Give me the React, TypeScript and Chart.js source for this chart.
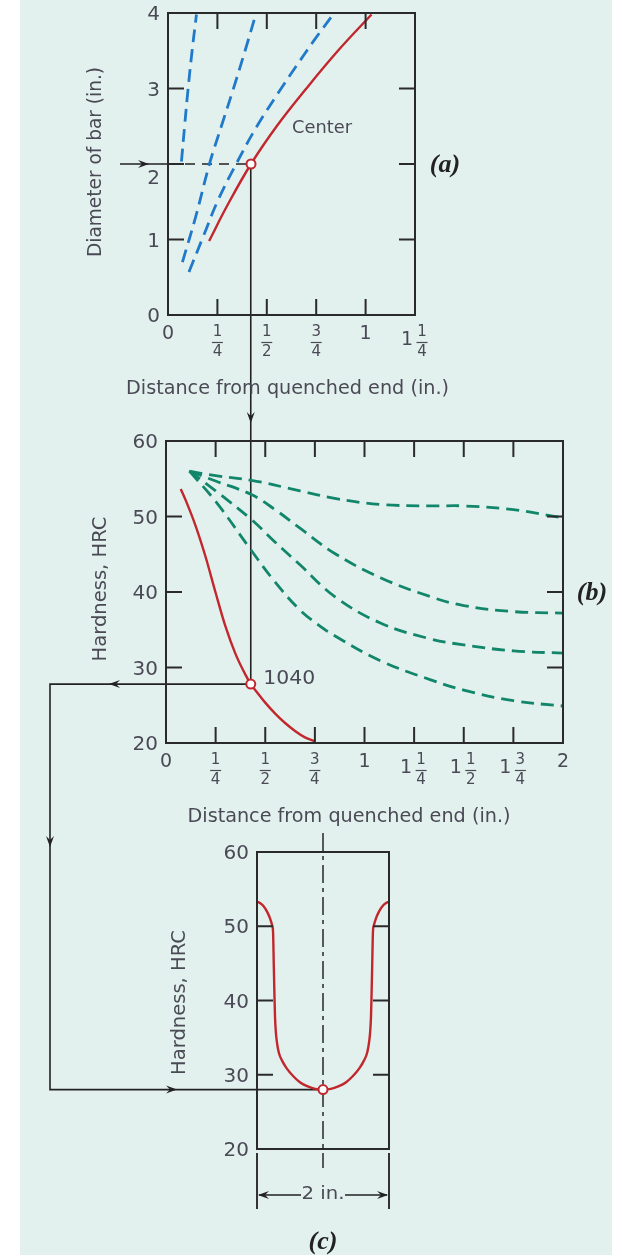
import React, { useEffect, useRef } from "react";
import { Chart, registerables } from "chart.js";
Chart.register(...registerables);

const W = 623;
const H = 1255;

// ---------- Chart (a): diameter of bar vs distance ----------
const aXTickValues = [0.25, 0.5, 0.75, 1];
const aYTickValues = [1, 2, 3];
const aXLabelValues = [0, 0.25, 0.5, 0.75, 1, 1.25];
const aXLabelTexts = ["0", "1/4", "1/2", "3/4", "1", "1 1/4"];
const aYLabelValues = [0, 1, 2, 3, 4];
const aYLabelTexts = ["0", "1", "2", "3", "4"];

const aCenterX = [0.208, 0.3, 0.42, 0.55, 0.7, 0.86, 1.03];
const aCenterY = [0.98, 1.45, 2.0, 2.5, 3.0, 3.5, 3.98];
const aBlue1X = [0.068, 0.084, 0.101, 0.122, 0.144];
const aBlue1Y = [2.03, 2.5, 2.98, 3.5, 3.98];
const aBlue2X = [0.073, 0.14, 0.211, 0.27, 0.329, 0.39, 0.444];
const aBlue2Y = [0.7, 1.3, 2.01, 2.5, 2.98, 3.5, 3.98];
const aBlue3X = [0.106, 0.18, 0.253, 0.345, 0.45, 0.56, 0.65, 0.74, 0.835];
const aBlue3Y = [0.57, 1.05, 1.52, 2.0, 2.5, 2.95, 3.3, 3.64, 3.98];
const aCircle = { x: 0.42, y: 2.0 };

// ---------- Chart (b): hardness vs distance ----------
const bXTickValues = [0.25, 0.5, 0.75, 1, 1.25, 1.5, 1.75];
const bYTickValues = [30, 40, 50];
const bXLabelValues = [0, 0.25, 0.5, 0.75, 1, 1.25, 1.5, 1.75, 2];
const bXLabelTexts = ["0", "1/4", "1/2", "3/4", "1", "1 1/4", "1 1/2", "1 3/4", "2"];
const bYLabelValues = [20, 30, 40, 50, 60];
const bYLabelTexts = ["20", "30", "40", "50", "60"];

const b1040X = [0.074, 0.1, 0.15, 0.2, 0.25, 0.3, 0.35, 0.4, 0.427, 0.45, 0.5, 0.55, 0.6, 0.65, 0.7, 0.751];
const b1040Y = [53.65, 52.1, 48.7, 44.6, 39.9, 35.4, 31.8, 29.05, 27.8, 27.0, 25.35, 23.9, 22.65, 21.6, 20.75, 20.2];
const bGreen1X = [0.118, 0.25, 0.43, 0.675, 0.85, 1.08, 1.33, 1.5, 1.75, 2.0];
const bGreen1Y = [56.0, 55.4, 54.8, 53.4, 52.4, 51.6, 51.4, 51.4, 50.9, 49.8];
const bGreen2X = [0.118, 0.25, 0.43, 0.55, 0.675, 0.85, 1.08, 1.33, 1.5, 1.75, 2.0];
const bGreen2Y = [56.0, 54.7, 52.9, 50.9, 48.45, 45.1, 41.9, 39.4, 38.2, 37.4, 37.2];
const bGreen3X = [0.118, 0.25, 0.43, 0.55, 0.675, 0.85, 1.08, 1.33, 1.5, 1.75, 2.0];
const bGreen3Y = [56.0, 53.4, 49.6, 46.6, 43.6, 39.4, 35.9, 33.8, 33.0, 32.2, 31.9];
const bGreen4X = [0.118, 0.25, 0.43, 0.55, 0.675, 0.76, 0.85, 1.08, 1.33, 1.5, 1.75, 2.0];
const bGreen4Y = [56.0, 52.0, 45.5, 41.3, 37.6, 35.8, 34.2, 30.9, 28.4, 27.0, 25.6, 24.9];
const bCircle = { x: 0.427, y: 27.8 };

// ---------- Chart (c): hardness profile across a 2 in. bar ----------
const cYTickValues = [30, 40, 50];
const cYLabelValues = [20, 30, 40, 50, 60];
const cYLabelTexts = ["20", "30", "40", "50", "60"];
const cProfileX = [
  -1, -0.95, -0.9, -0.85, -0.8, -0.77, -0.757, -0.745, -0.735, -0.727, -0.715, -0.7, -0.67, -0.62,
  -0.553, -0.45, -0.35, -0.25, -0.12, 0, 0.12, 0.25, 0.35, 0.45, 0.553, 0.62, 0.67, 0.7, 0.715,
  0.727, 0.735, 0.745, 0.757, 0.77, 0.8, 0.85, 0.9, 0.95, 1,
];
const cProfileY = [
  53.3, 53.1, 52.7, 52.0, 51.0, 50.1, 49.3, 44.5, 40.5, 37.8, 35.8, 34.5, 33.0, 31.9,
  30.9, 29.8, 29.0, 28.5, 28.1, 28.0, 28.1, 28.5, 29.0, 29.8, 30.9, 31.9, 33.0, 34.5, 35.8,
  37.8, 40.5, 44.5, 49.3, 50.1, 51.0, 52.0, 52.7, 53.1, 53.3,
];
const cCircle = { x: 0, y: 28.0 };

// ---------- styles ----------
const TEAL = "#e3f1ee";
const FRAME = "#2a2a2a";
const TEXT = "#4a4a56";
const RED = "#c1272d";
const BLUE = "#2179c9";
const GREEN = "#12866a";
const LINK = "#222222";
const TICK = 16;
const SANS = '"DejaVu Sans", "Liberation Sans", sans-serif';
const SERIF = '"Liberation Serif", "DejaVu Serif", serif';

type TOpts = {
  size: number;
  family?: string;
  align?: CanvasTextAlign;
  width?: number;
  rotate?: number;
  color?: string;
  style?: string;
};

function drawText(ctx: CanvasRenderingContext2D, text: string, x: number, y: number, o: TOpts) {
  ctx.save();
  ctx.font = `${o.style || ""} ${o.size}px ${o.family || SANS}`;
  ctx.fillStyle = o.color || TEXT;
  ctx.textBaseline = "middle";
  ctx.textAlign = o.align || "center";
  ctx.translate(x, y);
  if (o.rotate) ctx.rotate(o.rotate);
  if (o.width) {
    const m = ctx.measureText(text).width;
    ctx.scale(o.width / m, 1);
  }
  ctx.fillText(text, 0, 0);
  ctx.restore();
}

function arrowHead(ctx: CanvasRenderingContext2D, x: number, y: number, angle: number) {
  ctx.save();
  ctx.translate(x, y);
  ctx.rotate(angle);
  ctx.fillStyle = LINK;
  ctx.beginPath();
  ctx.moveTo(0, 0);
  ctx.lineTo(-11, -4);
  ctx.lineTo(-7, 0);
  ctx.lineTo(-11, 4);
  ctx.closePath();
  ctx.fill();
  ctx.restore();
}

function drawXLabel(ctx: CanvasRenderingContext2D, text: string, px: number, bottom: number) {
  const parts = text.split(" ");
  let whole = "";
  let frac = "";
  if (parts.length === 2) {
    whole = parts[0];
    frac = parts[1];
  } else if (text.includes("/")) frac = text;
  else whole = text;
  const drawFrac = (cx: number) => {
    const [n, d] = frac.split("/");
    drawText(ctx, n, cx, bottom + 17.5, { size: 15 });
    drawText(ctx, d, cx, bottom + 37, { size: 15 });
    ctx.save();
    ctx.strokeStyle = TEXT;
    ctx.lineWidth = 1.2;
    ctx.beginPath();
    ctx.moveTo(cx - 5.5, bottom + 27.5);
    ctx.lineTo(cx + 5.5, bottom + 27.5);
    ctx.stroke();
    ctx.restore();
  };
  if (whole && frac) {
    drawText(ctx, whole, px - 8, bottom + 25, { size: 19 });
    drawFrac(px + 7);
  } else if (frac) {
    drawFrac(px);
  } else {
    drawText(ctx, whole, px, bottom + 19.5, { size: 19 });
  }
}

type Spec = {
  xTicks: number[];
  yTicks: number[];
  xLabelValues: number[];
  xLabelTexts: string[];
  yLabelValues: number[];
  yLabelTexts: string[];
  yLabelShift?: Record<string, number>;
  under?: (chart: any) => void;
  over?: (chart: any) => void;
};

function framePlugin(id: string, spec: Spec) {
  return {
    id,
    beforeDatasetsDraw(chart: any) {
      if (spec.under) spec.under(chart);
    },
    afterDatasetsDraw(chart: any) {
      const ctx: CanvasRenderingContext2D = chart.ctx;
      const a = chart.chartArea;
      const xs = chart.scales.x;
      const ys = chart.scales.y;
      ctx.save();
      ctx.setLineDash([]);
      ctx.strokeStyle = FRAME;
      ctx.lineWidth = 2;
      ctx.strokeRect(a.left, a.top, a.right - a.left, a.bottom - a.top);
      ctx.beginPath();
      for (const v of spec.xTicks) {
        const px = xs.getPixelForValue(v);
        ctx.moveTo(px, a.bottom);
        ctx.lineTo(px, a.bottom - TICK);
        ctx.moveTo(px, a.top);
        ctx.lineTo(px, a.top + TICK);
      }
      for (const v of spec.yTicks) {
        const py = ys.getPixelForValue(v);
        ctx.moveTo(a.left, py);
        ctx.lineTo(a.left + TICK, py);
        ctx.moveTo(a.right, py);
        ctx.lineTo(a.right - TICK, py);
      }
      ctx.stroke();
      ctx.restore();
      spec.yLabelValues.forEach((v, i) => {
        const t = spec.yLabelTexts[i];
        const shift = (spec.yLabelShift && spec.yLabelShift[t]) || 0;
        drawText(ctx, t, a.left - 8, ys.getPixelForValue(v) + 1.8 + shift, { size: 20, align: "right" });
      });
      spec.xLabelValues.forEach((v, i) => {
        drawXLabel(ctx, spec.xLabelTexts[i], xs.getPixelForValue(v), a.bottom);
      });
      if (spec.over) spec.over(chart);
    },
  };
}

function lineDS(xs: number[], ys: number[], color: string, dash: number[], width: number, mono = false) {
  return {
    data: xs.map((x, i) => ({ x, y: ys[i] })),
    borderColor: color,
    borderWidth: width,
    borderDash: dash,
    pointRadius: 0,
    fill: false,
    tension: 0.4,
    cubicInterpolationMode: mono ? ("monotone" as const) : ("default" as const),
  };
}

function circleDS(p: { x: number; y: number }) {
  return {
    data: [p],
    showLine: false,
    pointRadius: 4.5,
    pointBackgroundColor: "#ffffff",
    pointBorderColor: RED,
    pointBorderWidth: 2,
    clip: false as const,
  };
}

function baseOptions(pad: { left: number; top: number; right: number; bottom: number }, x: [number, number], y: [number, number]) {
  return {
    animation: false as const,
    responsive: false,
    devicePixelRatio: 1,
    events: [] as any[],
    layout: { padding: pad },
    plugins: { legend: { display: false }, tooltip: { enabled: false } },
    scales: {
      x: { type: "linear" as const, min: x[0], max: x[1], display: false },
      y: { type: "linear" as const, min: y[0], max: y[1], display: false },
    },
  };
}

export default function App() {
  const refA = useRef<HTMLCanvasElement>(null);
  const refB = useRef<HTMLCanvasElement>(null);
  const refC = useRef<HTMLCanvasElement>(null);

  useEffect(() => {
    // (c)
    const specC: Spec = {
      xTicks: [],
      yTicks: cYTickValues,
      xLabelValues: [],
      xLabelTexts: [],
      yLabelValues: cYLabelValues,
      yLabelTexts: cYLabelTexts,
      under: (chart) => {
        const ctx: CanvasRenderingContext2D = chart.ctx;
        const a = chart.chartArea;
        const cx = chart.scales.x.getPixelForValue(0);
        ctx.save();
        ctx.strokeStyle = "#333";
        ctx.lineWidth = 1.6;
        ctx.setLineDash([18, 5, 4, 5]);
        ctx.beginPath();
        ctx.moveTo(cx, a.top - 19);
        ctx.lineTo(cx, a.bottom + 19);
        ctx.stroke();
        ctx.restore();
      },
      over: (chart) => {
        const ctx: CanvasRenderingContext2D = chart.ctx;
        const a = chart.chartArea;
        const xs = chart.scales.x;
        const l = xs.getPixelForValue(-1);
        const r = xs.getPixelForValue(1);
        const cx = xs.getPixelForValue(0);
        const dy = a.bottom + 46;
        ctx.save();
        ctx.strokeStyle = "#333";
        ctx.lineWidth = 2;
        ctx.beginPath();
        ctx.moveTo(l, a.bottom + 4);
        ctx.lineTo(l, a.bottom + 60);
        ctx.moveTo(r, a.bottom + 4);
        ctx.lineTo(r, a.bottom + 60);
        ctx.stroke();
        ctx.lineWidth = 1.5;
        ctx.strokeStyle = LINK;
        ctx.beginPath();
        ctx.moveTo(l + 2, dy);
        ctx.lineTo(cx - 22, dy);
        ctx.moveTo(cx + 22, dy);
        ctx.lineTo(r - 2, dy);
        ctx.stroke();
        ctx.restore();
        arrowHead(ctx, l + 1, dy, Math.PI);
        arrowHead(ctx, r - 1, dy, 0);
        drawText(ctx, "2 in.", cx, dy - 1, { size: 18, width: 43 });
        drawText(ctx, "Hardness, HRC", 180, (a.top + a.bottom) / 2 + 2, { size: 19, width: 145, rotate: -Math.PI / 2 });
        drawText(ctx, "(c)", cx, a.bottom + 93, { size: 26, family: SERIF, style: "italic bold", color: "#222" });
      },
    };
    const chartC = new Chart(refC.current as HTMLCanvasElement, {
      type: "line",
      data: { datasets: [circleDS(cCircle) as any, lineDS(cProfileX, cProfileY, RED, [], 2.4, true)] },
      options: baseOptions({ left: 257, top: 852, right: W - 389, bottom: H - 1149 }, [-1, 1], [20, 60]) as any,
      plugins: [framePlugin("frameC", specC)],
    });

    // (b)
    const specB: Spec = {
      xTicks: bXTickValues,
      yTicks: bYTickValues,
      xLabelValues: bXLabelValues,
      xLabelTexts: bXLabelTexts,
      yLabelValues: bYLabelValues,
      yLabelTexts: bYLabelTexts,
      over: (chart) => {
        const ctx: CanvasRenderingContext2D = chart.ctx;
        const a = chart.chartArea;
        drawText(ctx, "Hardness, HRC", 101.5, (a.top + a.bottom) / 2 - 3, { size: 19, width: 145, rotate: -Math.PI / 2 });
        drawText(ctx, "Distance from quenched end (in.)", 349, a.bottom + 73.5, { size: 20, width: 323 });
        const p = { x: chart.scales.x.getPixelForValue(bCircle.x), y: chart.scales.y.getPixelForValue(bCircle.y) };
        drawText(ctx, "1040", p.x + 38.5, p.y - 5.5, { size: 20, width: 52 });
        drawText(ctx, "(b)", a.right + 29, chart.scales.y.getPixelForValue(40) + 1, { size: 26, family: SERIF, style: "italic bold", color: "#222" });
      },
    };
    const chartB = new Chart(refB.current as HTMLCanvasElement, {
      type: "line",
      data: {
        datasets: [
          circleDS(bCircle) as any,
          lineDS(b1040X, b1040Y, RED, [], 2.4, true),
          lineDS(bGreen1X, bGreen1Y, GREEN, [13, 7], 2.8),
          lineDS(bGreen2X, bGreen2Y, GREEN, [13, 7], 2.8),
          lineDS(bGreen3X, bGreen3Y, GREEN, [13, 7], 2.8),
          lineDS(bGreen4X, bGreen4Y, GREEN, [13, 7], 2.8),
        ],
      },
      options: baseOptions({ left: 166, top: 441, right: W - 563, bottom: H - 743 }, [0, 2], [20, 60]) as any,
      plugins: [framePlugin("frameB", specB)],
    });

    // connectors (drawn on the bottom canvas, under everything)
    const connectors = {
      id: "connectors",
      beforeDatasetsDraw(chart: any) {
        const ctx: CanvasRenderingContext2D = chart.ctx;
        const a = chart.chartArea;
        const pA = { x: chart.scales.x.getPixelForValue(aCircle.x), y: chart.scales.y.getPixelForValue(aCircle.y) };
        const pB = { x: chartB.scales.x.getPixelForValue(bCircle.x), y: chartB.scales.y.getPixelForValue(bCircle.y) };
        const pC = { x: chartC.scales.x.getPixelForValue(cCircle.x), y: chartC.scales.y.getPixelForValue(cCircle.y) };
        const leftX = 50;
        ctx.save();
        ctx.strokeStyle = LINK;
        ctx.lineWidth = 1.6;
        ctx.beginPath();
        ctx.moveTo(120, pA.y);
        ctx.lineTo(a.left, pA.y);
        ctx.moveTo(pB.x, pA.y + 4);
        ctx.lineTo(pB.x, pB.y - 4);
        ctx.moveTo(pB.x - 4, pB.y);
        ctx.lineTo(leftX, pB.y);
        ctx.lineTo(leftX, pC.y);
        ctx.lineTo(pC.x - 4, pC.y);
        ctx.stroke();
        ctx.setLineDash([10, 7]);
        ctx.beginPath();
        ctx.moveTo(a.left, pA.y);
        ctx.lineTo(pA.x - 5, pA.y);
        ctx.stroke();
        ctx.restore();
        arrowHead(ctx, 149, pA.y, 0);
        arrowHead(ctx, pB.x, 423, Math.PI / 2);
        arrowHead(ctx, 109, pB.y, Math.PI);
        arrowHead(ctx, leftX, 847, Math.PI / 2);
        arrowHead(ctx, 177, pC.y, 0);
      },
    };

    // (a)
    const specA: Spec = {
      xTicks: aXTickValues,
      yTicks: aYTickValues,
      xLabelValues: aXLabelValues,
      xLabelTexts: aXLabelTexts,
      yLabelValues: aYLabelValues,
      yLabelTexts: aYLabelTexts,
      yLabelShift: { "2": 13 },
      over: (chart) => {
        const ctx: CanvasRenderingContext2D = chart.ctx;
        const a = chart.chartArea;
        drawText(ctx, "Diameter of bar (in.)", 96, (a.top + a.bottom) / 2 - 2, { size: 19, width: 190, rotate: -Math.PI / 2 });
        drawText(ctx, "Distance from quenched end (in.)", 287.5, a.bottom + 73.5, { size: 20, width: 323 });
        drawText(ctx, "Center", 322, 128.5, { size: 18, width: 60 });
        drawText(ctx, "(a)", a.right + 30, chart.scales.y.getPixelForValue(2) + 1, { size: 26, family: SERIF, style: "italic bold", color: "#222" });
      },
    };
    const chartA = new Chart(refA.current as HTMLCanvasElement, {
      type: "line",
      data: {
        datasets: [
          circleDS(aCircle) as any,
          lineDS(aCenterX, aCenterY, RED, [], 2.4),
          lineDS(aBlue1X, aBlue1Y, BLUE, [13, 7], 2.8),
          lineDS(aBlue2X, aBlue2Y, BLUE, [13, 7], 2.8),
          lineDS(aBlue3X, aBlue3Y, BLUE, [13, 7], 2.8),
        ],
      },
      options: baseOptions({ left: 168, top: 13, right: W - 415, bottom: H - 315 }, [0, 1.25], [0, 4]) as any,
      plugins: [connectors, framePlugin("frameA", specA)],
    });

    return () => {
      chartA.destroy();
      chartB.destroy();
      chartC.destroy();
    };
  }, []);

  const cv: React.CSSProperties = { position: "absolute", left: 0, top: 0, width: W, height: H };
  return (
    <div style={{ position: "fixed", left: 0, top: 0, width: W, height: H, background: "#ffffff", overflow: "hidden" }}>
      <div style={{ position: "absolute", left: 20, top: 0, width: 592, height: H, background: TEAL }} />
      <canvas ref={refA} width={W} height={H} style={cv} />
      <canvas ref={refB} width={W} height={H} style={cv} />
      <canvas ref={refC} width={W} height={H} style={cv} />
    </div>
  );
}
